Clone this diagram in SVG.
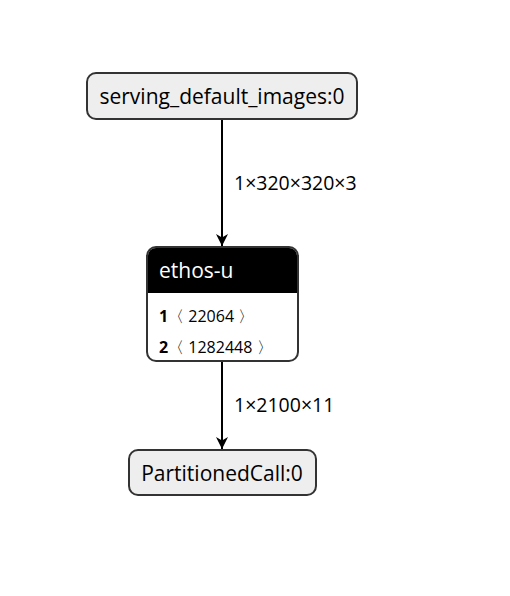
<svg xmlns="http://www.w3.org/2000/svg" width="510" height="596" viewBox="0 0 510 596">
<style>
.box{fill:#eeeeee;stroke:#333333;stroke-width:2}
.lbl{font-family:"Open Sans","Noto Sans",sans-serif;font-size:21px;fill:#000}
.elbl{font-family:"Open Sans","Noto Sans",sans-serif;font-size:19.5px;fill:#000}
.attr{font-family:"Open Sans","Noto Sans",sans-serif;font-size:16px;fill:#000}
.edge{stroke:#000;stroke-width:2;fill:none}
</style>
<defs>
<marker id="arr" markerWidth="12" markerHeight="12" refX="10" refY="5" orient="auto" markerUnits="userSpaceOnUse" viewBox="0 0 10 10">
<path d="M0,0 L10,5 L0,10 L3,5 Z" fill="#000"/>
</marker>
</defs>
<rect width="510" height="596" fill="#fff"/>
<g id="connectors">
<line class="edge" x1="222" y1="119" x2="222" y2="246" marker-end="url(#arr)"/>
<text class="elbl" x="234" y="190">1×320×320×3</text>
<line class="edge" x1="222" y1="361" x2="222" y2="449" marker-end="url(#arr)"/>
<text class="elbl" x="234" y="412">1×2100×11</text>
</g>
<g id="node-input">
<rect class="box" x="87" y="73" width="270" height="46" rx="9"/>
<text class="lbl" x="222" y="104" text-anchor="middle">serving_default_images:0</text>
</g>
<g id="node-ethos">
<rect x="147" y="247" width="151" height="114" rx="9" fill="#fff" stroke="#333" stroke-width="2"/>
<path d="M148,293 V256 a8,8 0 0 1 8,-8 H289 a8,8 0 0 1 8,8 V293 Z" fill="#000"/>
<text class="lbl" x="159" y="278" style="fill:#fff">ethos-u</text>
<text class="attr" x="159" y="322"><tspan font-weight="bold">1</tspan>〈 22064 〉</text>
<text class="attr" x="159" y="353"><tspan font-weight="bold">2</tspan>〈 1282448 〉</text>
</g>
<g id="node-output">
<rect class="box" x="129" y="450" width="187" height="45" rx="9"/>
<text class="lbl" x="222" y="481" text-anchor="middle">PartitionedCall:0</text>
</g>
</svg>
